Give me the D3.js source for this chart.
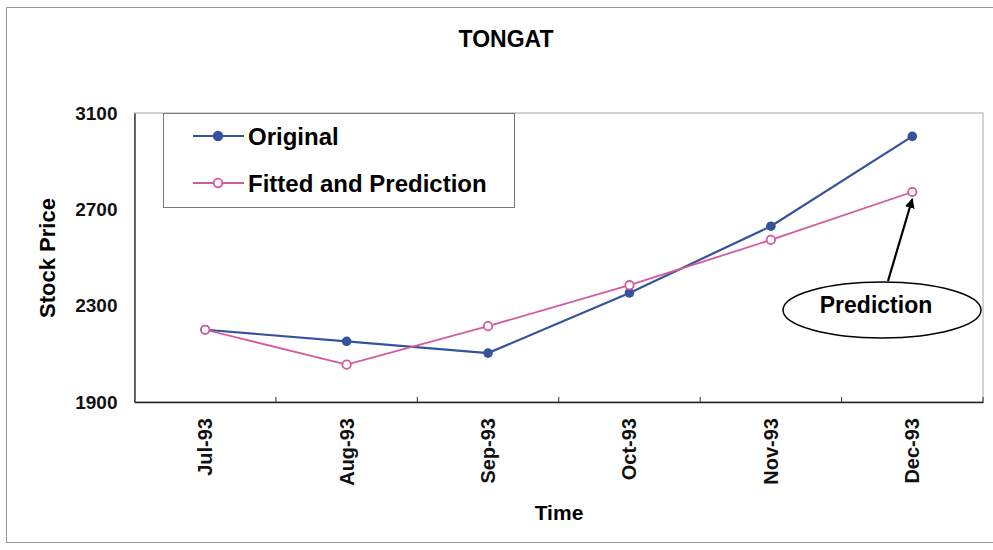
<!DOCTYPE html>
<html><head><meta charset="utf-8">
<script src="https://cdn.jsdelivr.net/npm/d3@7"></script>
<style>body{margin:0;background:#fff}svg{display:block;font-family:"Liberation Sans",Arial,sans-serif;font-weight:bold}</style>
</head><body><svg id="c" width="993" height="550"></svg>
<script>
const categories = ["Jul-93","Aug-93","Sep-93","Oct-93","Nov-93","Dec-93"];
const original = [2200, 2152, 2103, 2353, 2630, 3003];
const fitted = [2200, 2055, 2215, 2385, 2573, 2772];
const yTicks = [1900, 2300, 2700, 3100];
const seriesNames = ["Original", "Fitted and Prediction"];

const svg = d3.select("#c");
const L = 134.5, R = 983, T = 113, B = 402;
const x = d3.scaleBand().domain(categories).range([L, R]);
const y = d3.scaleLinear().domain([1900, 3100]).range([B, T]);
const cx = d => x(d) + x.bandwidth()/2;

// outer border
svg.append("rect").attr("x",6.5).attr("y",7.5).attr("width",1000).attr("height",535)
  .attr("fill","#fff").attr("stroke","#9a9a9a").attr("stroke-width",1);

svg.append("text").attr("x",506).attr("y",47).attr("text-anchor","middle")
  .attr("font-size",23).text("TONGAT");

// plot frame
svg.append("rect").attr("x",L).attr("y",T).attr("width",R-L).attr("height",B-T)
  .attr("fill","none").attr("stroke","#a8a8a8").attr("stroke-width",1);

// y axis
const ya = svg.append("g").attr("transform",`translate(${L},0)`)
  .call(d3.axisLeft(y).tickValues(yTicks).tickSize(0).tickPadding(17).tickFormat(d3.format("d")));
ya.select(".domain").attr("stroke","#222").attr("stroke-width",1.3);
ya.selectAll("text").attr("font-size",19).attr("font-family","Liberation Sans, Arial").attr("font-weight","bold").attr("fill","#111");

// x axis
const xa = svg.append("g").attr("transform",`translate(0,${B})`)
  .call(d3.axisBottom(x).tickSize(0).tickSizeOuter(0));
xa.select(".domain").attr("stroke","#222").attr("stroke-width",1.3);
xa.selectAll(".tick line").remove();
xa.selectAll("text").attr("font-size",20).attr("font-family","Liberation Sans, Arial").attr("font-weight","bold").attr("fill","#111")
  .attr("text-anchor","end").attr("transform","rotate(-90)").attr("x",-16).attr("y",0).attr("dy","0.35em");
// boundary ticks pointing up
svg.append("g").selectAll("line").data(categories.slice(1).map(c=>x(c)).concat([R]))
  .join("line").attr("x1",d=>d).attr("x2",d=>d).attr("y1",B).attr("y2",B-5)
  .attr("stroke","#333").attr("stroke-width",1);

svg.append("text").attr("transform","translate(55,258) rotate(-90)").attr("text-anchor","middle")
  .attr("font-size",22).text("Stock Price");
svg.append("text").attr("x",559).attr("y",520).attr("text-anchor","middle")
  .attr("font-size",21).text("Time");

const line = d3.line().x((d,i)=>cx(categories[i])).y(d=>y(d));
const blue = "#34539a", pink = "#d6589d";
svg.append("path").datum(original).attr("d",line).attr("fill","none").attr("stroke",blue).attr("stroke-width",2.2);
svg.append("path").datum(fitted).attr("d",line).attr("fill","none").attr("stroke",pink).attr("stroke-width",1.8);
svg.append("g").selectAll("circle").data(original).join("circle")
  .attr("cx",(d,i)=>cx(categories[i])).attr("cy",d=>y(d)).attr("r",4.8).attr("fill",blue);
svg.append("g").selectAll("circle").data(fitted).join("circle")
  .attr("cx",(d,i)=>cx(categories[i])).attr("cy",d=>y(d)).attr("r",4.2).attr("fill","#fff").attr("stroke",pink).attr("stroke-width",1.8);

// legend
svg.append("rect").attr("x",163.5).attr("y",113.5).attr("width",351).attr("height",94)
  .attr("fill","#fff").attr("stroke","#777").attr("stroke-width",1);
const lg = [{n:seriesNames[0],c:blue,f:blue,y:136},{n:seriesNames[1],c:pink,f:"#fff",y:183}];
lg.forEach(o=>{
  svg.append("line").attr("x1",193).attr("x2",244).attr("y1",o.y).attr("y2",o.y).attr("stroke",o.c).attr("stroke-width",2);
  svg.append("circle").attr("cx",218).attr("cy",o.y).attr("r",4.3).attr("fill",o.f).attr("stroke",o.c).attr("stroke-width",1.8);
  svg.append("text").attr("x",248).attr("y",o.y).attr("dy","0.36em").attr("font-size",24).text(o.n);
});

// annotation
svg.append("defs").append("marker").attr("id","ah").attr("viewBox","0 0 10 10").attr("refX",9).attr("refY",5)
  .attr("markerWidth",4.5).attr("markerHeight",4.5).attr("orient","auto")
  .append("path").attr("d","M0,0L10,5L0,10z").attr("fill","#000");
const px = cx(categories[5]), py = y(fitted[5]);
svg.append("line").attr("x1",888).attr("y1",281).attr("x2",px).attr("y2",py+7)
  .attr("stroke","#000").attr("stroke-width",2.2).attr("marker-end","url(#ah)");
svg.append("ellipse").attr("cx",882).attr("cy",310).attr("rx",99).attr("ry",28)
  .attr("fill","#fff").attr("stroke","#000").attr("stroke-width",1.5);
svg.append("text").attr("x",876).attr("y",305).attr("dy","0.36em").attr("text-anchor","middle")
  .attr("font-size",23).text("Prediction");
</script></body></html>
